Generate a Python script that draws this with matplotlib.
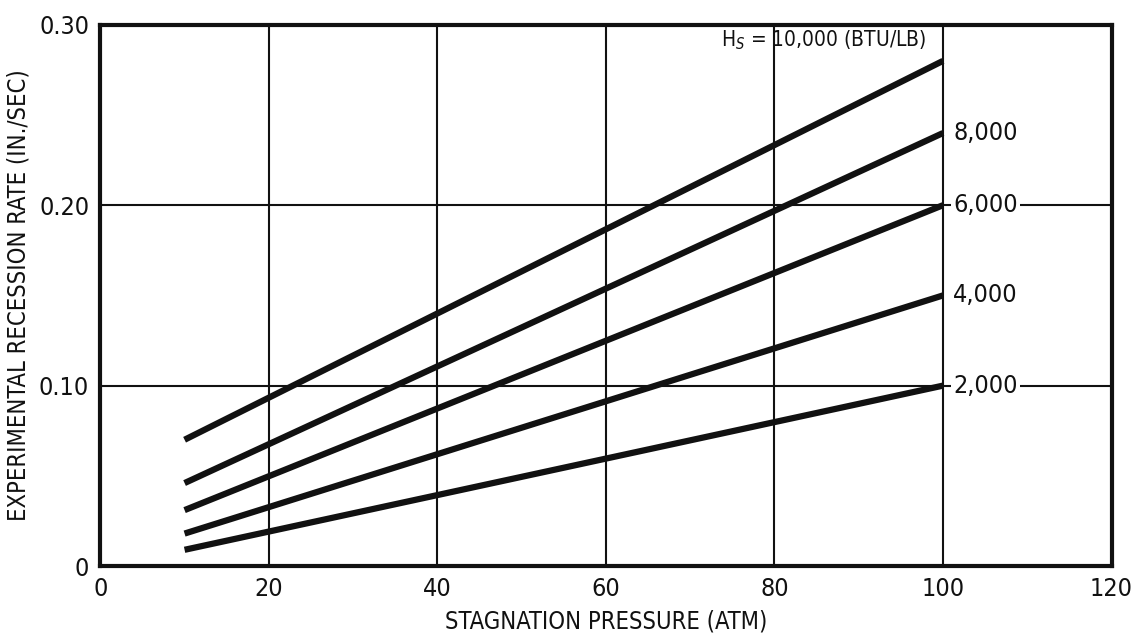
import matplotlib
matplotlib.use('Agg')
import matplotlib.pyplot as plt

plt.rcParams['font.family'] = ['DejaVu Sans']
plt.rcParams['font.stretch'] = 'condensed'

# data
pressure = [10, 100]
hs_levels = ['10,000', '8,000', '6,000', '4,000', '2,000']
rate_10k = [0.070, 0.280]
rate_8k = [0.046, 0.240]
rate_6k = [0.031, 0.200]
rate_4k = [0.018, 0.150]
rate_2k = [0.009, 0.100]
series = [rate_10k, rate_8k, rate_6k, rate_4k, rate_2k]

xticks = [0, 20, 40, 60, 80, 100, 120]
yticks = [0, 0.10, 0.20, 0.30]
ytick_labels = ['0', '0.10', '0.20', '0.30']

fig = plt.figure(figsize=(11.4, 6.36), dpi=100)
ax = fig.add_axes([0.088, 0.110, 0.887, 0.851])

#grid
for x in xticks[1:-1]:
    ax.axvline(x, color='#111111', lw=1.5, zorder=1)
for y in yticks[1:-1]:
    ax.axhline(y, color='#111111', lw=1.5, zorder=1)

#curves
for vals in series:
    ax.plot(pressure, vals, color='#111111', lw=4.5, solid_capstyle='butt', zorder=3)

#labels at line ends
ax.text(98, series[0][1] + 0.005, r'H$_S$ = ' + hs_levels[0] + ' (BTU/LB)', ha='right', va='bottom',
        fontsize=15, color='#111111', zorder=4)
for lab, vals in zip(hs_levels[1:], series[1:]):
    ax.text(101.2, vals[1], lab, ha='left', va='center', fontsize=18, color='#111111',
            bbox=dict(facecolor='white', edgecolor='none', pad=1.5), zorder=4)

ax.set_xlim(0, 120)
ax.set_ylim(0, 0.30)
ax.set_xticks(xticks)
ax.set_yticks(yticks)
ax.set_yticklabels(ytick_labels)
ax.tick_params(length=0, labelsize=18, colors='#111111', pad=8)
for s in ax.spines.values():
    s.set_linewidth(3)
    s.set_color('#111111')

ax.set_xlabel('STAGNATION PRESSURE (ATM)', fontsize=17, color='#111111', labelpad=6)
ax.set_ylabel('EXPERIMENTAL RECESSION RATE (IN./SEC)', fontsize=17, color='#111111', labelpad=6)

plt.savefig('out.png', format='png')
